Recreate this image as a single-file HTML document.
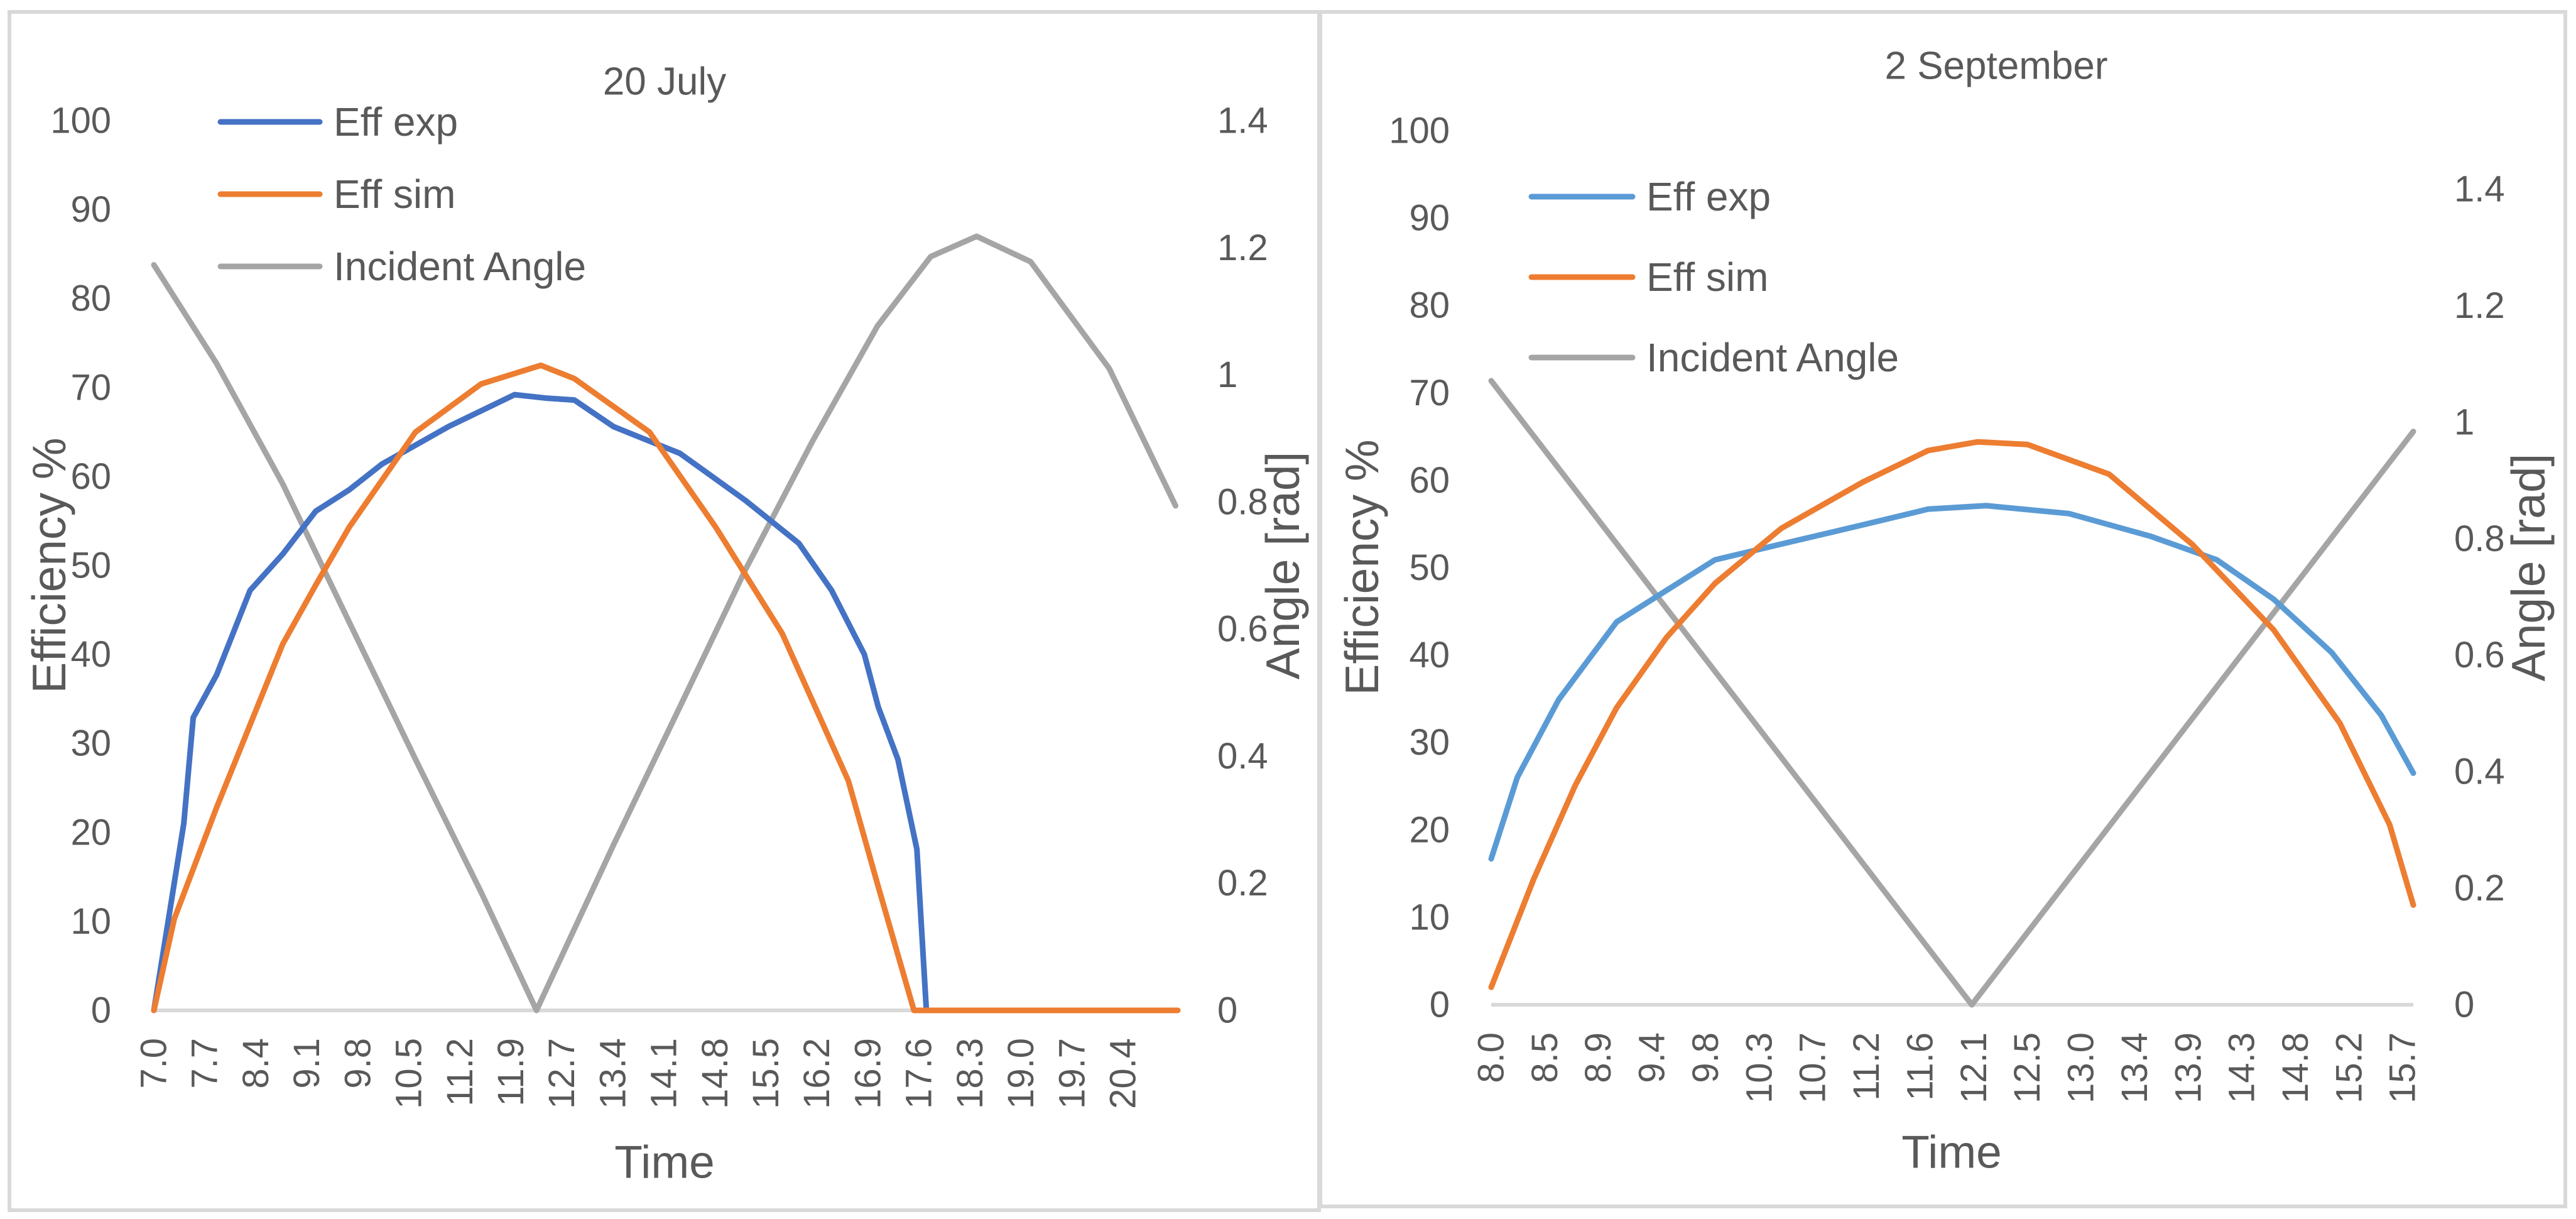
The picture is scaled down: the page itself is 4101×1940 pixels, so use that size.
<!DOCTYPE html>
<html><head><meta charset="utf-8"><style>
html,body{margin:0;padding:0;background:#fff;}
svg{display:block;font-family:"Liberation Sans",sans-serif;}
</style></head><body>
<svg id="s" width="4101" height="1940" viewBox="0 0 4101 1940" xmlns="http://www.w3.org/2000/svg">
<rect x="15" y="19" width="2085" height="1907" fill="none" stroke="#d9d9d9" stroke-width="6"/>
<rect x="2102" y="19" width="1982" height="1901" fill="none" stroke="#d9d9d9" stroke-width="6"/>
<g id="c1"></g>
<g id="c2"></g>
</svg>
<script>
// ---- 20 July data ----
const julyExpX=[7.0,7.41,7.54,7.86,8.32,8.77,9.22,9.68,10.13,11.04,11.95,12.4,12.77,13.31,14.22,15.12,15.85,16.3,16.75,16.94,17.21,17.47,17.6];
const julyExpY=[0,21.0,32.9,37.7,47.2,51.3,56.1,58.5,61.4,65.6,69.2,68.8,68.6,65.6,62.6,57.3,52.5,47.2,40.0,34.1,28.2,18.1,0];
const julySimX=[7.0,7.28,7.86,8.77,9.22,9.68,10.59,11.49,12.31,12.77,13.8,14.71,15.62,16.53,16.94,17.43,17.6,21.05];
const julySimY=[0,10.3,22.8,41.2,47.8,54.3,65.0,70.4,72.5,71.0,65.0,54.3,42.4,25.8,13.9,0,0,0];
const julyAngX=[7.0,7.86,8.77,9.68,10.59,11.49,12.25,13.31,14.22,15.12,16.03,16.93,17.66,18.29,19.03,20.11,21.02];
const julyAngY=[1.173,1.018,0.828,0.611,0.395,0.186,0,0.261,0.478,0.694,0.894,1.077,1.186,1.218,1.178,1.01,0.794];
const julyTicks=["7.0","7.7","8.4","9.1","9.8","10.5","11.2","11.9","12.7","13.4","14.1","14.8","15.5","16.2","16.9","17.6","18.3","19.0","19.7","20.4"];
const julyTickVals=[7.0,7.7,8.4,9.1,9.8,10.5,11.2,11.9,12.6,13.3,14.0,14.7,15.4,16.1,16.8,17.5,18.2,18.9,19.6,20.3];
// ---- 2 September data ----
const sepExpX=[8.0,8.22,8.57,9.06,9.48,9.89,10.45,11.14,11.69,12.18,12.88,13.57,14.13,14.61,15.1,15.52,15.79];
const sepExpY=[16.7,26.0,34.9,43.8,47.4,50.9,52.7,54.9,56.7,57.1,56.2,53.6,50.9,46.4,40.3,33.1,26.5];
const sepSimX=[8.0,8.36,8.71,9.06,9.48,9.89,10.45,11.14,11.69,12.11,12.53,13.22,13.92,14.61,15.17,15.59,15.79];
const sepSimY=[2.0,14.4,25.1,34.0,42.0,48.2,54.5,59.8,63.4,64.4,64.1,60.7,52.7,42.9,32.2,20.6,11.4];
const sepAngX=[8.0,12.06,15.79];
const sepAngY=[1.071,0,0.984];
const sepTicks=["8.0","8.5","8.9","9.4","9.8","10.3","10.7","11.2","11.6","12.1","12.5","13.0","13.4","13.9","14.3","14.8","15.2","15.7"];
const leftTicks=["0","10","20","30","40","50","60","70","80","90","100"];
const rightTicks=["0","0.2","0.4","0.6","0.8","1","1.2","1.4"];

const NS="http://www.w3.org/2000/svg";
function mk(parent,tag,attrs,txt){const e=document.createElementNS(NS,tag);for(const k in attrs)e.setAttribute(k,attrs[k]);if(txt!==undefined)e.textContent=txt;parent.appendChild(e);return e;}

function drawChart(g,cfg){
  const xs=v=>cfg.x0+(v-cfg.t0)*(cfg.x1-cfg.x0)/(cfg.t1-cfg.t0);
  const yl=v=>cfg.y0+(v/100)*(cfg.y100-cfg.y0);
  const yr=v=>cfg.y0+(v/1.4)*(cfg.yr14-cfg.y0);
  let e;
  e=mk(g,'line',{x1:cfg.x0,x2:cfg.x1,y1:cfg.y0,y2:cfg.y0,stroke:'#d9d9d9','stroke-width':6});
  
  
  leftTicks.forEach((t,i)=>{
    e=mk(g,'text',{x:cfg.lx,y:yl(i*10),'text-anchor':'end','dominant-baseline':'central','font-size':58,fill:'#595959'},t);
    
    
  });
  rightTicks.forEach((t,i)=>{
    e=mk(g,'text',{x:cfg.rx,y:yr(i*0.2),'text-anchor':'start','dominant-baseline':'central','font-size':58,fill:'#595959'},t);
    
    
  });
  cfg.ticks.forEach((t,i)=>{
    const x=xs(cfg.tickVals[i]);
    e=mk(g,'text',{x:0,y:0,transform:`translate(${x},${cfg.tickTop}) rotate(-90)`,'text-anchor':'end','dominant-baseline':'central','font-size':58,fill:'#595959'},t);
    
    
  });
  function series(X,Y,scale,color,name){
    const d=X.map((v,i)=>(i?'L':'M')+xs(v).toFixed(1)+','+scale(Y[i]).toFixed(1)).join(' ');
    const p=mk(g,'path',{d:d,fill:'none',stroke:color,'stroke-width':9,'stroke-linejoin':'round','stroke-linecap':'round'});
    
    
  }
  series(cfg.angX,cfg.angY,yr,'#a5a5a5','incident-angle-line');
  series(cfg.expX,cfg.expY,yl,cfg.expColor,'eff-exp-line');
  series(cfg.simX,cfg.simY,yl,'#ed7d31','eff-sim-line');
  e=mk(g,'text',{x:cfg.titleX,y:cfg.titleY,'text-anchor':'middle','dominant-baseline':'central','font-size':62,fill:'#595959'},cfg.title);
  
  
  e=mk(g,'text',{x:cfg.timeX,y:cfg.timeY,'text-anchor':'middle','dominant-baseline':'central','font-size':73,fill:'#595959'},'Time');
  
  
  e=mk(g,'text',{x:0,y:0,transform:`translate(${cfg.effX},${cfg.axY}) rotate(-90)`,'text-anchor':'middle','dominant-baseline':'central','font-size':75,fill:'#595959'},'Efficiency %');
  
  
  e=mk(g,'text',{x:0,y:0,transform:`translate(${cfg.angTX},${cfg.axY}) rotate(-90)`,'text-anchor':'middle','dominant-baseline':'central','font-size':75,fill:'#595959'},'Angle [rad]');
  
  
  const leg=[['Eff exp',cfg.expColor],['Eff sim','#ed7d31'],['Incident Angle','#a5a5a5']];
  leg.forEach((l,i)=>{
    const y=cfg.legY+i*cfg.legDy;
    e=mk(g,'line',{x1:cfg.legX1,x2:cfg.legX2,y1:y,y2:y,stroke:l[1],'stroke-width':9,'stroke-linecap':'round'});
    
    
    e=mk(g,'text',{x:cfg.legX2+22,y:y,'dominant-baseline':'central','font-size':64,fill:'#595959'},l[0]);
    
    
  });
}
drawChart(document.getElementById('c1'),{x0:245,x1:1875,t0:7.0,t1:21.05,y0:1608,y100:192,yr14:192,lx:177,rx:1938,
  ticks:julyTicks,tickVals:julyTickVals,tickTop:1652,expX:julyExpX,expY:julyExpY,simX:julySimX,simY:julySimY,angX:julyAngX,angY:julyAngY,
  expColor:'#4472c4',title:'20 July',titleX:1058,titleY:130,timeX:1058,timeY:1850,effX:78,angTX:2042,axY:900,
  legX1:351,legX2:509,legY:194,legDy:115});
drawChart(document.getElementById('c2'),{x0:2374,x1:3842,t0:8.0,t1:15.79,y0:1599,y100:208,yr14:301,lx:2308,rx:3907,
  ticks:sepTicks,tickVals:sepTicks.map((t,i)=>8.0+i*0.453),tickTop:1643,expX:sepExpX,expY:sepExpY,simX:sepSimX,simY:sepSimY,angX:sepAngX,angY:sepAngY,
  expColor:'#5b9bd5',title:'2 September',titleX:3178,titleY:105,timeX:3107,timeY:1834,effX:2168,angTX:4025,axY:903,
  legX1:2438,legX2:2599,legY:313,legDy:128});
</script>
</body></html>
